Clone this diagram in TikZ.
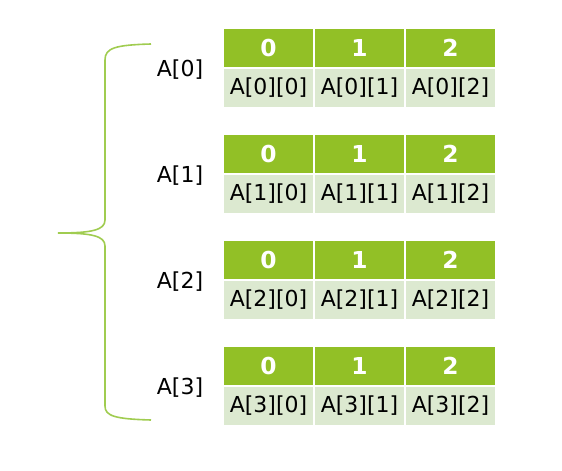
\documentclass[tikz,border=0pt]{standalone}
\usepackage{fontspec}
\setmainfont{DejaVu Sans}
\usetikzlibrary{positioning}
\definecolor{headgreen}{RGB}{146,192,38}
\definecolor{cellgreen}{RGB}{220,233,208}
\definecolor{bracegreen}{RGB}{160,204,80}

\begin{document}
\begin{tikzpicture}[x=0.75pt, y=-0.75pt, thick,
	head cell/.style={rectangle, draw=white, line width=1.5pt, outer sep=0pt, inner sep=0pt, fill=headgreen, minimum width=68.25pt, minimum height=30pt, text=white, font=\fontsize{17.5}{19}\selectfont\bfseries},
	data cell/.style={rectangle, draw=white, line width=1.5pt, outer sep=0pt, inner sep=0pt, fill=cellgreen, minimum width=68.25pt, minimum height=30pt, font=\fontsize{16.5}{18}\selectfont},
	row label/.style={font=\fontsize{16.5}{18}\selectfont}]
	\useasboundingbox (0,0) rectangle (562,471);

	\foreach \r in {0,...,3} {
		\node[row label] (L\r) at (180, 70+106*\r) {A[\r]};
		\foreach \c in {0,1,2} {
			\node[head cell] (H\r\c) at (268.5+91*\c, 48+106*\r) {\c};
			\node[data cell] (D\r\c) [below=0pt of H\r\c] {A[\r][\c]};
		}
	}

	% brace
	\coordinate (brace top) at (151,44);
	\coordinate (brace tip) at (58,233);
	\coordinate (brace bot) at (151,420);
	\draw[bracegreen, line width=1.2pt] (brace top) .. controls (115,45) and (105,48) .. (105,60)
		-- (105,220) .. controls (105,230) and (92,233) .. (brace tip)
		.. controls (92,233) and (105,236) .. (105,246)
		-- (105,406) .. controls (105,416) and (115,419) .. (brace bot);
\end{tikzpicture}
\end{document}
